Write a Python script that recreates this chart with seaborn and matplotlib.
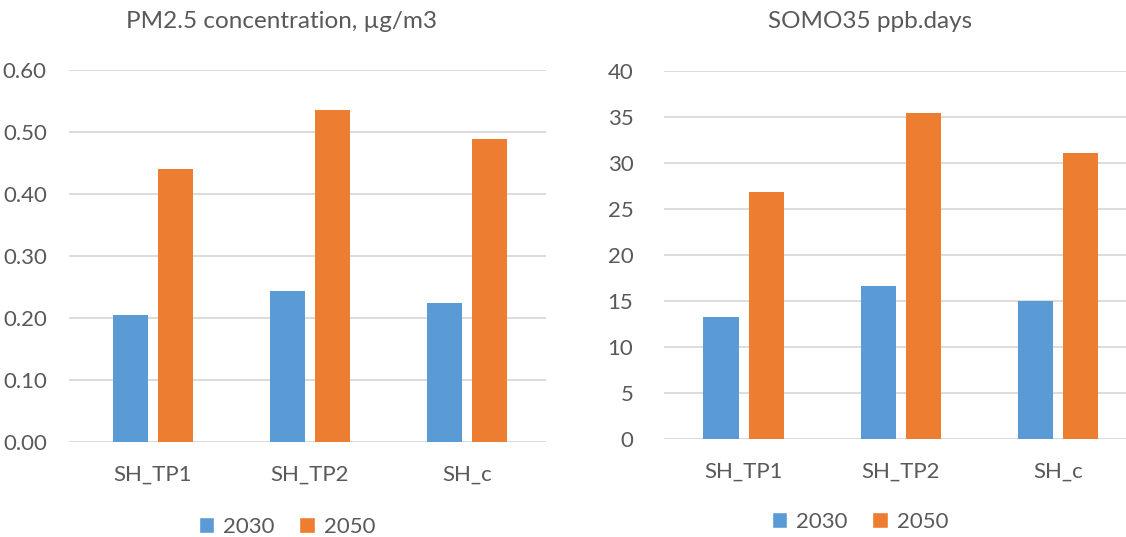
import matplotlib
matplotlib.use("Agg")
import matplotlib.pyplot as plt
import seaborn as sns
import pandas as pd
from matplotlib.patches import Patch

# Scenario labels and projection years
scenarios = ["SH_TP1", "SH_TP2", "SH_c"]
years = ["2030", "2050"]

# PM2.5 concentration change, µg/m3
pm25_2030 = [0.205, 0.243, 0.225]
pm25_2050 = [0.441, 0.535, 0.488]

# SOMO35, ppb.days
somo_2030 = [13.3, 16.6, 15.0]
somo_2050 = [26.9, 35.4, 31.1]

pm_ticks = [0.0, 0.1, 0.2, 0.3, 0.4, 0.5, 0.6]
somo_ticks = [0, 5, 10, 15, 20, 25, 30, 35, 40]

BLUE = "#5B9BD5"
ORANGE = "#ED7D31"
GRID = "#D9D9D9"
TEXT = "#595959"

sns.set_theme(style="white")
plt.rcParams["font.family"] = ["Lato", "DejaVu Sans"]


def long_frame(v2030, v2050):
    return pd.DataFrame({
        "scenario": scenarios * 2,
        "year": [years[0]] * 3 + [years[1]] * 3,
        "value": list(v2030) + list(v2050),
    })


W, H = 1126, 537
fig = plt.figure(figsize=(W / 100, H / 100), dpi=100)


def px_axes(left, right, top, bottom):
    return fig.add_axes([left / W, 1 - bottom / H, (right - left) / W, (bottom - top) / H])


ax1 = px_axes(69, 545.5, 70, 442)
ax2 = px_axes(664, 1137, 71, 439)

panels = [
    (ax1, long_frame(pm25_2030, pm25_2050), pm_ticks, "{:.2f}", (-0.535, 2.5)),
    (ax2, long_frame(somo_2030, somo_2050), somo_ticks, "{:d}", (-0.506, 2.5)),
]

for ax, df, ticks, fmt, xlim in panels:
    sns.barplot(data=df, x="scenario", y="value", hue="year",
                palette=[BLUE, ORANGE], width=0.573, gap=0.22,
                saturation=1, legend=False, ax=ax, zorder=3, linewidth=0)
    ax.set_ylim(ticks[0], ticks[-1])
    ax.set_yticks(ticks)
    ax.set_yticklabels([fmt.format(t) for t in ticks])
    ax.set_xlim(*xlim)
    ax.set_xlabel("")
    ax.set_ylabel("")
    for s in ax.spines.values():
        s.set_visible(False)
    ax.yaxis.grid(True, color=GRID, linewidth=1.3, zorder=0)
    ax.set_axisbelow(True)
    ax.tick_params(axis="both", length=0, labelsize=16, colors=TEXT)
    ax.tick_params(axis="x", pad=16)

ax1.tick_params(axis="y", pad=16)
ax2.tick_params(axis="y", pad=22)

fig.text(282 / W, 1 - 21 / H, "PM2.5 concentration, µg/m3", ha="center", va="center",
         fontsize=17.5, color=TEXT)
fig.text(870 / W, 1 - 22 / H, "SOMO35 ppb.days", ha="center", va="center",
         fontsize=17.5, color=TEXT)

handles = [Patch(facecolor=BLUE, label=years[0]), Patch(facecolor=ORANGE, label=years[1])]
for cx, cy in [(287, 527), (860, 522)]:
    fig.legend(handles=handles, loc="center", bbox_to_anchor=(cx / W, 1 - cy / H),
               ncol=2, frameon=False, fontsize=16, labelcolor=TEXT,
               handlelength=0.7, handleheight=0.7, handletextpad=0.4,
               columnspacing=1.1, borderpad=0)

fig.savefig("out.png", dpi=100, facecolor="white")
